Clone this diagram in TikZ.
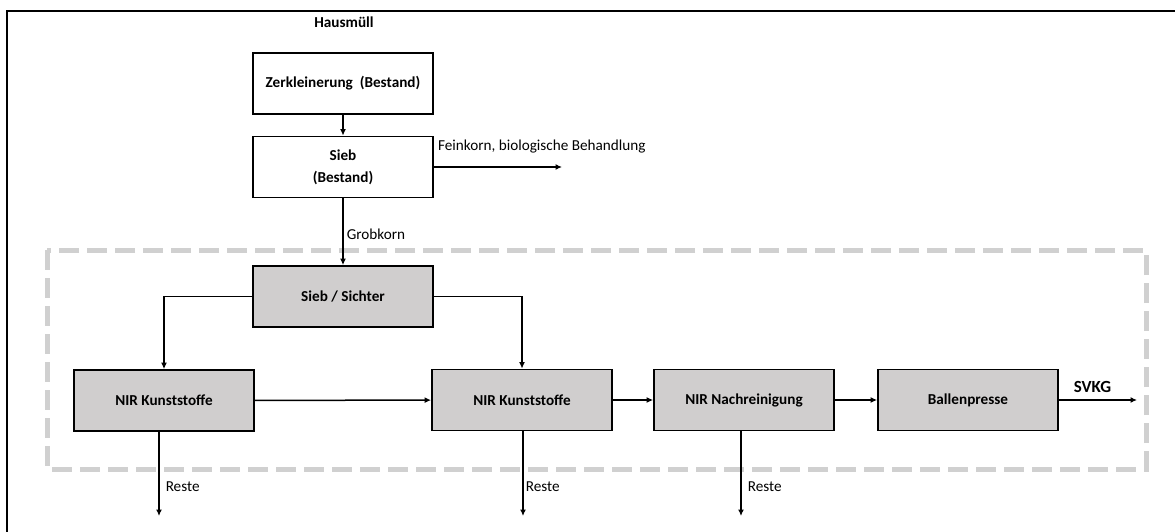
\documentclass[tikz,border=0pt]{standalone}
\usepackage{fontspec}
\setmainfont{Carlito}
\usetikzlibrary{arrows.meta}
\definecolor{boxgray}{HTML}{D0CECE}
\definecolor{framegray}{HTML}{D0D0D0}

\begin{document}
\begin{tikzpicture}[x=1pt,y=-1pt,
    every node/.style={font=\fontsize{15.2}{18}\selectfont},
    oldbox/.style={draw,line width=1.8pt,fill=white,minimum width=180pt,minimum height=61pt,align=center,font=\fontsize{15.2}{22}\selectfont\bfseries},
    newbox/.style={oldbox,fill=boxgray},
    flow/.style={line width=1.5pt,-{Latex[length=6.5pt,width=6pt]}},
    boldlbl/.style={font=\fontsize{15.2}{18}\selectfont\bfseries}]
  \useasboundingbox (0,0) rectangle (1175,532);

  % Frame (top and left only)
  \draw[line width=1.6pt] (1175,11) -- (7,11) -- (7,532);

  % New plant section
  \draw[framegray,line width=5pt,dash pattern=on 20pt off 8pt] (47,250) rectangle (1146,469);

  % Existing plant
  \node[boldlbl] (haus) at (344,22) {Hausmüll};
  \node[oldbox] (zerk) at (343,83.5) {Zerkleinerung\ \ (Bestand)};
  \node[oldbox] (sieb) at (343,167) {Sieb\\(Bestand)};

  % Sorting line
  \node[newbox] (sichter) at (343,296.5) {Sieb / Sichter};
  \node[newbox] (nirA) at (164,400.5) {NIR Kunststoffe};
  \node[newbox] (nirB) at (522,400) {NIR Kunststoffe};
  \node[newbox] (nach) at (744,400) {NIR Nachreinigung};
  \node[newbox] (ballen) at (968,400) {Ballenpresse};

  % Loose ends of the outputs
  \coordinate (fein) at (562,167);
  \coordinate (svkg) at (1137,400);
  \coordinate (resteA) at (159,516);
  \coordinate (resteB) at (523,516);
  \coordinate (resteC) at (741,516);

  % Flows
  \draw[flow] (zerk) -- (sieb);
  \draw[flow] (sieb.east) -- (fein);
  \node[anchor=west,inner sep=0pt,xshift=4pt,yshift=20pt] (feinlbl) at (sieb.east) {Feinkorn, biologische Behandlung};
  \draw[flow] (sieb) -- node[right,pos=0.54,inner sep=3pt] (grob) {Grobkorn} (sichter);
  \draw[flow] (sichter.west) -| (nirA.north);
  \draw[flow] (sichter.east) -| (nirB.north);
  \draw[flow] (nirA) -- (nirB);
  \draw[flow] (nirB) -- (nach);
  \draw[flow] (nach) -- (ballen);
  \draw[flow] (ballen.east) -- node[boldlbl,font=\fontsize{17}{20}\selectfont\bfseries,above,pos=0.43,yshift=3pt] (svkglbl) {SVKG} (svkg);

  % Residues
  \draw[flow] (nirA.south -| resteA) -- node[right,pos=0.65,inner sep=6pt] (rA) {Reste} (resteA);
  \draw[flow] (nirB.south -| resteB) -- node[right,pos=0.65,inner sep=2pt] (rB) {Reste} (resteB);
  \draw[flow] (nach.south -| resteC) -- node[right,pos=0.65,inner sep=6pt] (rC) {Reste} (resteC);
\end{tikzpicture}
\end{document}
